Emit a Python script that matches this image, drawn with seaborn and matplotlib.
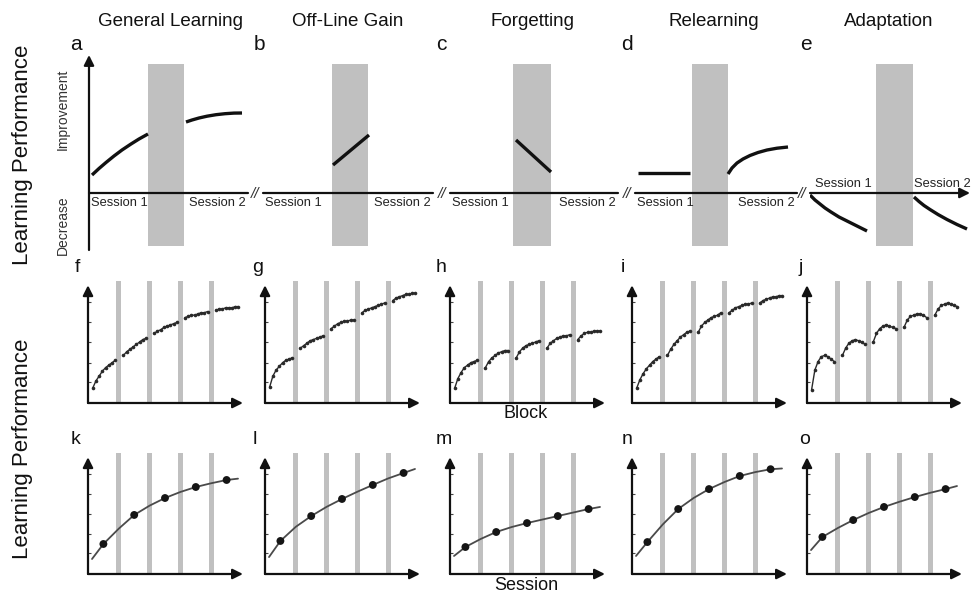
import numpy as np
import pandas as pd
import matplotlib
matplotlib.use("Agg")
import matplotlib.pyplot as plt
from matplotlib.patches import Rectangle
import seaborn as sns

sns.set_theme(style="white")
plt.rcParams["font.family"] = ["Liberation Sans", "DejaVu Sans"]

# ---------------------------------------------------------------- data
titles = ["General Learning", "Off-Line Gain", "Forgetting", "Relearning", "Adaptation"]
top_letters = ["a", "b", "c", "d", "e"]
block_letters = ["f", "g", "h", "i", "j"]
session_letters = ["k", "l", "m", "n", "o"]

# Top row schematics: time along the session axis, performance relative
# to the baseline (positive = improvement, negative = decrease).
gen_s1_t = [0.03, 0.10, 0.17, 0.25, 0.33, 0.42, 0.50, 0.59]
gen_s1_p = [0.18, 0.245, 0.305, 0.37, 0.43, 0.49, 0.54, 0.59]
gen_s2_t = [0.97, 1.03, 1.10, 1.18, 1.27, 1.36, 1.45, 1.53]
gen_s2_p = [0.71, 0.73, 0.75, 0.768, 0.783, 0.793, 0.799, 0.80]
gain_t = [0.70, 1.06]
gain_p = [0.28, 0.58]
forget_t = [0.66, 1.01]
forget_p = [0.53, 0.21]
relearn_s1_t = [0.03, 0.55]
relearn_s1_p = [0.20, 0.20]
relearn_s2_t = [0.93, 0.97, 1.02, 1.08, 1.15, 1.23, 1.32, 1.42, 1.53]
relearn_s2_p = [0.19, 0.25, 0.30, 0.34, 0.375, 0.405, 0.43, 0.448, 0.46]
adapt_s1_t = [0.00, 0.05, 0.10, 0.15, 0.21, 0.29, 0.37, 0.47, 0.57]
adapt_s1_p = [-0.02, -0.07, -0.11, -0.15, -0.19, -0.24, -0.28, -0.33, -0.38]
adapt_s2_t = [1.04, 1.09, 1.14, 1.20, 1.28, 1.37, 1.47, 1.57]
adapt_s2_p = [-0.04, -0.085, -0.125, -0.165, -0.215, -0.265, -0.315, -0.36]

# Block-wise performance, 5 sessions x 8 blocks
blocks_general = [0.12, 0.18, 0.22, 0.26, 0.29, 0.31, 0.33, 0.35,
                  0.39, 0.42, 0.44, 0.46, 0.48, 0.50, 0.52, 0.53,
                  0.57, 0.59, 0.60, 0.62, 0.63, 0.64, 0.65, 0.66,
                  0.70, 0.71, 0.72, 0.72, 0.73, 0.74, 0.74, 0.75,
                  0.76, 0.77, 0.77, 0.78, 0.78, 0.78, 0.79, 0.79]
blocks_gain = [0.13, 0.22, 0.27, 0.30, 0.33, 0.35, 0.36, 0.37,
               0.45, 0.47, 0.49, 0.51, 0.52, 0.53, 0.54, 0.55,
               0.61, 0.63, 0.65, 0.66, 0.67, 0.67, 0.68, 0.68,
               0.74, 0.76, 0.77, 0.78, 0.79, 0.80, 0.81, 0.82,
               0.84, 0.86, 0.87, 0.88, 0.89, 0.89, 0.90, 0.90]
blocks_forget = [0.12, 0.20, 0.25, 0.29, 0.31, 0.33, 0.34, 0.35,
                 0.29, 0.34, 0.37, 0.39, 0.41, 0.42, 0.43, 0.43,
                 0.37, 0.42, 0.45, 0.47, 0.48, 0.49, 0.50, 0.51,
                 0.45, 0.49, 0.51, 0.53, 0.54, 0.55, 0.55, 0.56,
                 0.52, 0.55, 0.57, 0.58, 0.58, 0.59, 0.59, 0.59]
blocks_relearn = [0.12, 0.19, 0.24, 0.28, 0.31, 0.34, 0.36, 0.38,
                  0.39, 0.44, 0.48, 0.51, 0.54, 0.56, 0.58, 0.59,
                  0.58, 0.63, 0.66, 0.68, 0.70, 0.71, 0.72, 0.74,
                  0.74, 0.76, 0.78, 0.79, 0.80, 0.81, 0.81, 0.82,
                  0.82, 0.84, 0.85, 0.86, 0.87, 0.87, 0.88, 0.88]
blocks_adapt = [0.11, 0.27, 0.34, 0.38, 0.39, 0.38, 0.36, 0.34,
                0.39, 0.45, 0.49, 0.51, 0.52, 0.51, 0.50, 0.48,
                0.50, 0.57, 0.61, 0.63, 0.64, 0.63, 0.62, 0.61,
                0.62, 0.68, 0.71, 0.72, 0.73, 0.73, 0.72, 0.70,
                0.72, 0.77, 0.80, 0.81, 0.82, 0.81, 0.80, 0.79]

# Session-wise performance (one value per session) and the fitted trend
trend_t = [0.13, 0.5, 1.0, 1.5, 2.0, 2.5, 3.0, 3.5, 4.0, 4.5, 4.87]
sess_general = [0.248, 0.488, 0.628, 0.719, 0.777]
trend_general = [0.124, 0.248, 0.375, 0.488, 0.565, 0.628, 0.678, 0.719, 0.750, 0.777, 0.788]
sess_gain = [0.273, 0.479, 0.620, 0.736, 0.835]
trend_gain = [0.140, 0.273, 0.390, 0.479, 0.555, 0.620, 0.680, 0.736, 0.790, 0.835, 0.868]
sess_forget = [0.223, 0.347, 0.421, 0.479, 0.537]
trend_forget = [0.149, 0.223, 0.290, 0.347, 0.388, 0.421, 0.450, 0.479, 0.508, 0.537, 0.554]
sess_relearn = [0.264, 0.537, 0.702, 0.810, 0.866]
trend_relearn = [0.149, 0.264, 0.410, 0.537, 0.628, 0.702, 0.760, 0.810, 0.842, 0.866, 0.872]
sess_adapt = [0.306, 0.446, 0.554, 0.636, 0.702]
trend_adapt = [0.198, 0.306, 0.380, 0.446, 0.504, 0.554, 0.597, 0.636, 0.671, 0.702, 0.727]

# ---------------------------------------------------------------- layout
W, H = 975, 594
fig = plt.figure(figsize=(W / 100, H / 100), dpi=100)

BAND = "#c0c0c0"
INK = "#111111"


def px_axes(left, top, width, height):
    ax = fig.add_axes([left / W, 1 - (top + height) / H, width / W, height / H])
    ax.set_facecolor("none")
    return ax


def ftext(x, y, s, **kw):
    fig.text(x / W, 1 - y / H, s, **kw)


def arrow(ax, x0, y0, x1, y1, lw=1.6):
    ax.annotate("", xy=(x1, y1), xytext=(x0, y0), annotation_clip=False,
                arrowprops=dict(arrowstyle="-|>,head_length=0.6,head_width=0.3",
                                lw=lw, color=INK, shrinkA=0, shrinkB=0,
                                mutation_scale=10))


def curve(ax, t, p, lw=2.4):
    sns.lineplot(x=t, y=p, ax=ax, color=INK, linewidth=lw, estimator=None,
                 sort=False, legend=False, solid_capstyle="butt")


# ---------------------------------------------------------------- top row
top_start = [89, 263, 450, 635, 810]
top_len = [159, 170, 168, 162, 160]
top_band = [(148, 184), (332, 368), (513, 551), (692, 728), (876, 913)]
BASE_Y = 193   # pixel row of the session baseline
AX_TOP, AX_BOT = 50, 252

top_curves = [
    [(gen_s1_t, gen_s1_p), (gen_s2_t, gen_s2_p)],
    [(gain_t, gain_p)],
    [(forget_t, forget_p)],
    [(relearn_s1_t, relearn_s1_p), (relearn_s2_t, relearn_s2_p)],
    [(adapt_s1_t, adapt_s1_p), (adapt_s2_t, adapt_s2_p)],
]

for i in range(5):
    start, length = top_start[i], top_len[i]
    width = length + 14
    ax = px_axes(start, AX_TOP, width, AX_BOT - AX_TOP)
    ax.set_xlim(0, width / 100)
    ax.set_ylim(-(AX_BOT - BASE_Y) / 100, (BASE_Y - AX_TOP) / 100)
    ax.axis("off")
    b0, b1 = [(v - start) / 100 for v in top_band[i]]
    ax.add_patch(Rectangle((b0, -(246 - BASE_Y) / 100), b1 - b0,
                           (246 - 64) / 100, color=BAND, lw=0, zorder=1))
    L = length / 100
    if i == 4:
        arrow(ax, 0, 0, L, 0, lw=1.6)
    else:
        ax.plot([0, L], [0, 0], color=INK, lw=1.6, zorder=2, clip_on=False)
    for t, p in top_curves[i]:
        curve(ax, t, p)
    if i == 0:
        arrow(ax, 0, -(250 - BASE_Y) / 100, 0, (BASE_Y - 55) / 100, lw=1.6)
    # session labels
    if i < 4:
        ax.text(0.02, -0.035, "Session 1", ha="left", va="top", fontsize=9.3, color="#222")
        ax.text(L - 0.02, -0.035, "Session 2", ha="right", va="top", fontsize=9.3, color="#222")
    else:
        ax.text(0.05, 0.03, "Session 1", ha="left", va="bottom", fontsize=9.3, color="#222")
        ax.text(1.04, 0.03, "Session 2", ha="left", va="bottom", fontsize=9.3, color="#222")
    # axis break marks
    if i > 0:
        ftext(start - 8, BASE_Y + 1, "//", ha="center", va="center", fontsize=11,
              style="italic", color="#333")

# titles and panel letters
title_x = [171, 348, 533, 714, 889]
for x, t in zip(title_x, titles):
    ftext(x, 22, t, ha="center", va="center", fontsize=13.5, color="#111")
for x, s in zip([76, 259, 441, 627, 806], top_letters):
    ftext(x, 44, s, ha="center", va="center", fontsize=15, color="#111")

ftext(63, 109, "Improvement", rotation=90, ha="center", va="center", fontsize=10, color="#333")
ftext(63, 225, "Decrease", rotation=90, ha="center", va="center", fontsize=10, color="#333")
ftext(23, 155, "Learning Performance", rotation=90, ha="center", va="center", fontsize=16, color="#111")
ftext(23, 449, "Learning Performance", rotation=90, ha="center", va="center", fontsize=16, color="#111")

# ---------------------------------------------------------------- small panels
small_left = [88, 265, 450, 632, 807]
SESSION_PX = 30.8
XMAX = 5.2
BLOCK_OFFSET, BLOCK_STEP = 0.15, 0.105


def small_axes(left, top, height):
    ax = px_axes(left, top, XMAX * SESSION_PX, height)
    ax.set_xlim(0, XMAX)
    ax.set_ylim(0, 1)
    for sp in ax.spines.values():
        sp.set_visible(False)
    ax.set_xticks([])
    ax.set_yticks([0.17, 0.33, 0.5, 0.66, 0.83])
    ax.set_yticklabels([])
    ax.tick_params(axis="y", direction="in", length=2.5, width=0.8, color="#444", left=True)
    for s in range(1, 5):
        ax.add_patch(Rectangle((s - 0.075, 0), 0.15, 1.0, color=BAND, lw=0, zorder=1))
    arrow(ax, 0, 0, 5.03, 0)
    arrow(ax, 0, 0, 0, 0.965)
    return ax


block_series = [blocks_general, blocks_gain, blocks_forget, blocks_relearn, blocks_adapt]
for i in range(5):
    ax = small_axes(small_left[i], 281, 122)
    vals = np.asarray(block_series[i])
    idx = np.arange(len(vals))
    sess = idx // 8
    df = pd.DataFrame({"x": sess + BLOCK_OFFSET + (idx % 8) * BLOCK_STEP,
                       "y": vals, "session": sess})
    sns.lineplot(data=df, x="x", y="y", units="session", estimator=None, ax=ax,
                 color="#2a2a2a", linewidth=1.0, marker="o", markersize=2.6,
                 markeredgewidth=0, legend=False, zorder=3)
    ax.set_xlabel("")
    ax.set_ylabel("")

session_series = [sess_general, sess_gain, sess_forget, sess_relearn, sess_adapt]
trend_series = [trend_general, trend_gain, trend_forget, trend_relearn, trend_adapt]
for i in range(5):
    ax = small_axes(small_left[i], 453, 121)
    sns.lineplot(x=trend_t, y=trend_series[i], ax=ax, color="#4a4a4a", linewidth=1.3,
                 estimator=None, sort=False, legend=False, zorder=3)
    sns.scatterplot(x=np.arange(5) + 0.5, y=session_series[i], ax=ax, s=32,
                    color="#151515", edgecolor="none", legend=False, zorder=4)
    ax.set_xlabel("")
    ax.set_ylabel("")

for x, s in zip([77, 258, 441, 623, 801], block_letters):
    ftext(x, 267, s, ha="center", va="center", fontsize=14, color="#111")
for x, s in zip([76, 255, 444, 627, 805], session_letters):
    ftext(x, 439, s, ha="center", va="center", fontsize=14, color="#111")

ftext(526, 414, "Block", ha="center", va="center", fontsize=13, color="#111")
ftext(526, 585, "Session", ha="center", va="center", fontsize=13, color="#111")

fig.savefig("out.png", dpi=100)
